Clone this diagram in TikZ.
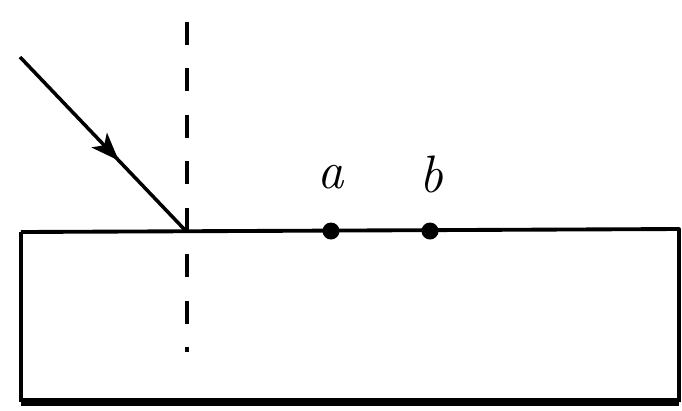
\documentclass[tikz,border=0pt]{standalone}
\usetikzlibrary{arrows.meta,decorations.markings}
\begin{document}
\begin{tikzpicture}[x=0.02cm,y=-0.02cm,
  edge/.style={line width=2.2pt},
  normalline/.style={line width=2.2pt,dash pattern=on 0.46cm off 0.47cm},
  ray/.style={line width=2pt,decoration={markings,mark=at position 0.6 with {\arrow{Stealth[length=16pt,width=12pt,inset=4pt]}}},postaction={decorate}},
  pt/.style={circle,fill=black,inner sep=0pt,minimum size=0.34cm},
  lab/.style={font=\fontsize{30}{30}\selectfont\itshape,inner sep=0pt}]
\useasboundingbox (0,0) rectangle (682,410);
\coordinate (tl) at (21,232);
\coordinate (tr) at (679,229);
\coordinate (br) at (679,402);
\coordinate (bl) at (21,402);
\draw[edge,line join=round] (tl) -- (tr) -- (br);
\draw[edge] (tl) -- (bl);
\draw[line width=4.2pt] (bl) -- (br);
\coordinate (hit) at (185,230);
\coordinate (src) at (20,57);
\coordinate (ntop) at (187,22);
\coordinate (nbot) at (187,352);
\draw[normalline] (ntop) -- (nbot);
\draw[ray] (src) -- (hit);
\node[pt] (a) at (331,231) {};
\node[pt] (b) at (430,231) {};
\node[lab] (la) at (331,177) {a};
\node[lab] (lb) at (431,174) {b};
\end{tikzpicture}
\end{document}
